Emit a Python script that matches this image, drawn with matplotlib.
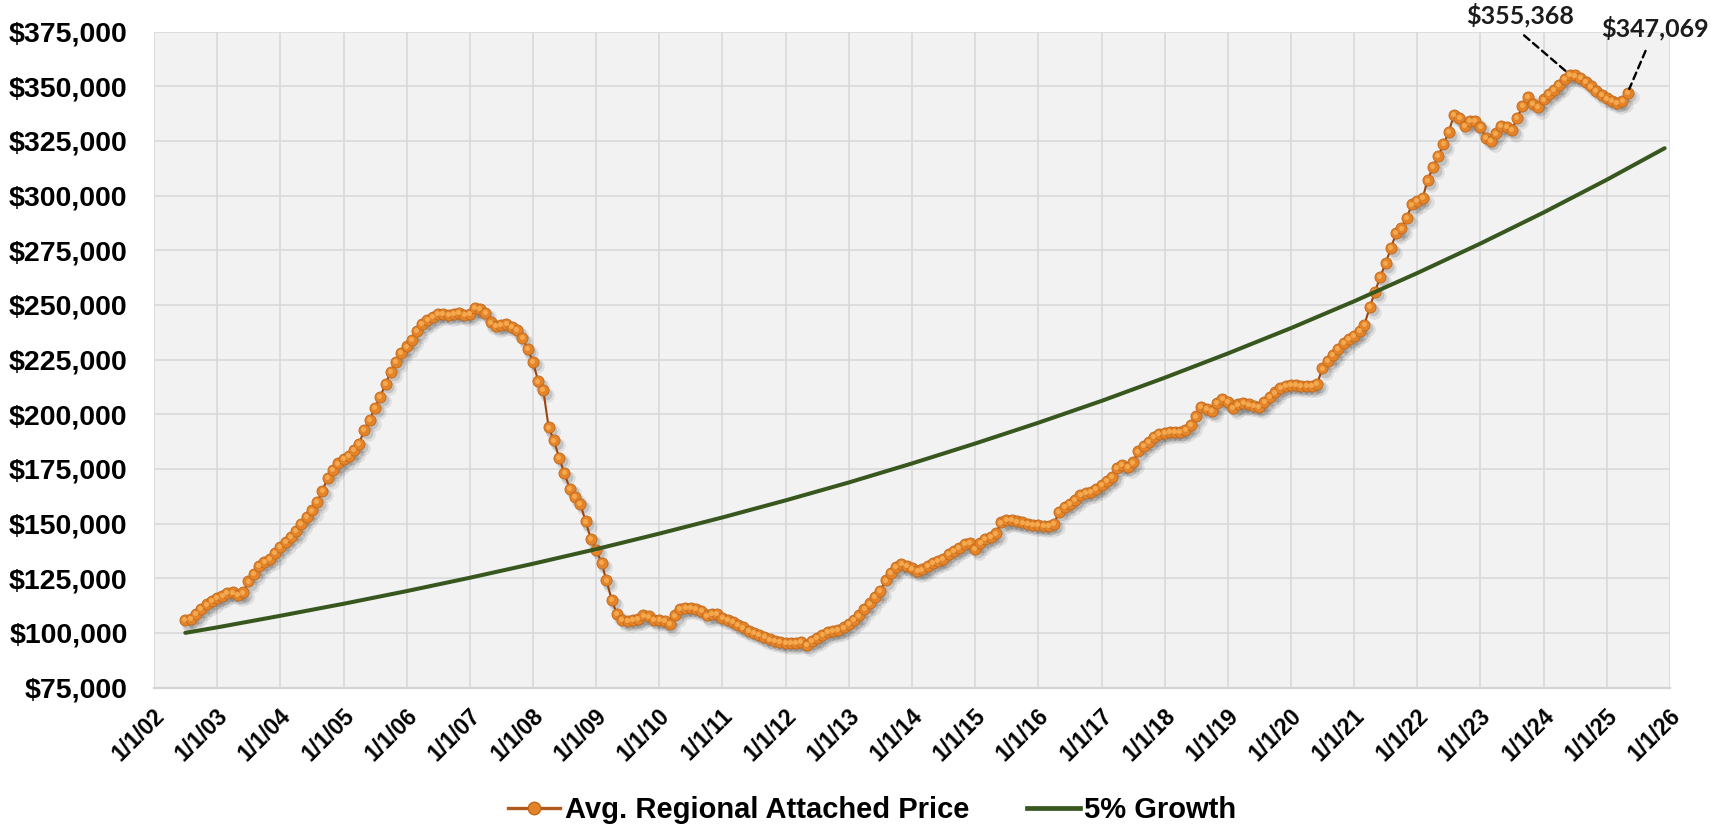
import matplotlib
matplotlib.use('Agg')
import matplotlib.pyplot as plt
import matplotlib.transforms as mtransforms
from matplotlib.lines import Line2D
import numpy as np
import pandas as pd

plt.rcParams['font.family'] = ['Liberation Sans', 'DejaVu Sans']

# ---------------- data ----------------
price_start = '2002-07-01'   # monthly series, first of month
price_k = [
    # 2002 Jul-Dec
    105.8, 106.5, 108.5, 111, 113, 114.5,
    # 2003
    116, 117, 118.3, 118.5, 117.5, 118.5, 123.5, 127, 130.5, 132.5, 134, 136.5,
    # 2004
    139.5, 141.5, 144, 146.5, 150, 153, 156, 160, 165, 171, 174.5, 177.5,
    # 2005
    179.5, 181, 183.5, 186.5, 193, 197.5, 203, 208, 214, 219.5, 224, 228,
    # 2006
    231, 234, 238, 241.5, 243, 244.5, 246, 246, 245.5, 246, 246.5, 245.5,
    # 2007
    246, 248.5, 248, 246.5, 242, 240.5, 241, 241.5, 240, 238.5, 235, 230,
    # 2008
    224, 215, 211, 194, 188, 180, 173, 166, 162, 159, 151, 143,
    # 2009
    138, 132, 124, 115, 108.5, 106, 105.5, 106, 106.5, 108, 107.5, 106,
    # 2010
    106, 105.5, 104, 108, 111, 111.5, 111.5, 111, 110, 108, 108.5, 108.5,
    # 2011
    107, 106, 105, 103.5, 102.5, 101, 100, 99, 98, 97, 96.5, 96,
    # 2012
    95.5, 95.5, 95.5, 96, 94.5, 96.5, 97.5, 99, 100.5, 101, 101.5, 102.5,
    # 2013
    104, 106, 108, 111, 113.5, 116.5, 119, 124, 127.5, 130, 131.5, 130.5,
    # 2014
    129.5, 128.5, 129, 130.5, 132, 133, 134, 136, 137.5, 139, 140.5, 141,
    # 2015
    138.5, 141, 143, 144, 145.5, 150.5, 151.5, 151.5, 151, 150.5, 150, 149.5,
    # 2016
    149.5, 149, 149, 150, 155.5, 157.5, 159, 161, 163, 164, 164.5, 166,
    # 2017
    167.5, 169.5, 171.5, 175.5, 177, 176, 178, 183, 185.5, 187.5, 189.5, 191,
    # 2018
    191.5, 192, 192, 192, 193, 195, 199, 203.5, 202.5, 201.5, 205, 207,
    # 2019
    205.5, 203, 204.5, 205, 204.5, 204, 203.5, 205.5, 208, 210, 212, 213,
    # 2020
    213.5, 213.5, 213, 213, 213, 214, 221, 224.5, 227, 230, 232.5, 234.5,
    # 2021
    236, 238, 241, 249, 256, 263, 269, 276, 283, 285, 290, 296,
    # 2022
    297.5, 299, 307, 313, 318, 323.5, 329, 337, 335.5, 332, 334, 334,
    # 2023
    331.5, 326.5, 325, 328.5, 332, 331.5, 330, 335.5, 341, 345, 342, 340.5,
    # 2024
    344, 346.5, 348.5, 350.5, 353.5, 355.368, 355, 354, 352, 350, 348, 346,
    # 2025 Jan-May
    344.5, 343.5, 342.5, 343.5, 347.069,
]

growth_dates = ['2002-07-01', '2003-01-01', '2004-01-01', '2005-01-01', '2006-01-01',
                '2007-01-01', '2008-01-01', '2009-01-01', '2010-01-01', '2011-01-01',
                '2012-01-01', '2013-01-01', '2014-01-01', '2015-01-01', '2016-01-01',
                '2017-01-01', '2018-01-01', '2019-01-01', '2020-01-01', '2021-01-01',
                '2022-01-01', '2023-01-01', '2024-01-01', '2025-01-01', '2025-12-01']
growth_values = [100000, 102500, 107800, 113300, 119100, 125200, 131600, 138300,
                 145400, 152800, 160600, 168800, 177500, 186600, 196100, 206100,
                 216700, 227800, 239400, 251700, 264600, 278100, 292300, 307300,
                 321700]

tick_years = list(range(2002, 2027))
tick_labels = [f'1/1/{y % 100:02d}' for y in tick_years]
y_ticks = list(range(75000, 375001, 25000))

series_names = ['Avg. Regional Attached Price', '5% Growth']

# ---------------- build ----------------
prices = np.array(price_k) * 1000.0
price_dates = pd.date_range(price_start, periods=len(prices), freq='MS')
g_dates = pd.to_datetime(growth_dates)

ORANGE_FACE = '#e4842a'
ORANGE_EDGE = '#c0681c'
ORANGE_LINE = '#9a4612'
GREEN = '#38571f'

fig = plt.figure(figsize=(17.24, 8.26), dpi=100)
ax = fig.add_axes([154 / 1724, 1 - 687.5 / 826, (1670 - 154) / 1724, (687.5 - 31.7) / 826])
ax.set_facecolor('#f2f2f2')

ax.set_xlim(pd.Timestamp('2002-01-01'), pd.Timestamp('2026-01-01'))
ax.set_ylim(75000, 375000)
ax.set_xticks([pd.Timestamp(f'{y}-01-01') for y in tick_years])
ax.set_xticklabels(tick_labels)
ax.set_yticks(y_ticks)
ax.set_yticklabels([f'${v:,}' for v in y_ticks])

ax.grid(True, color='#d9d9d9', lw=1.2)
ax.set_axisbelow(True)
for s in ['top', 'right', 'left']:
    ax.spines[s].set_visible(False)
ax.spines['bottom'].set_color('#d4d4d4')
ax.spines['bottom'].set_linewidth(1.6)

ax.tick_params(axis='both', length=0)
ax.tick_params(axis='y', pad=19, labelsize=20.5)
ax.tick_params(axis='x', pad=18, labelsize=16.5)
for lab in ax.get_yticklabels():
    lab.set_fontweight('bold')
xshift = mtransforms.ScaledTranslation(7 / 100, 0, fig.dpi_scale_trans)
for lab in ax.get_xticklabels():
    lab.set_fontweight('bold')
    lab.set_rotation(45)
    lab.set_ha('right')
    lab.set_va('center')
    lab.set_rotation_mode('anchor')
    lab.set_transform(lab.get_transform() + xshift)

# shadows of markers
sh1 = mtransforms.offset_copy(ax.transData, fig=fig, x=2.8, y=-3.2, units='points')
sh2 = mtransforms.offset_copy(ax.transData, fig=fig, x=2.0, y=-2.4, units='points')
ax.plot(price_dates, prices, ls='none', marker='o', ms=10.5, mfc='#000000', mec='none',
        alpha=0.08, transform=sh1, zorder=2)
ax.plot(price_dates, prices, ls='none', marker='o', ms=8.5, mfc='#000000', mec='none',
        alpha=0.13, transform=sh2, zorder=2)

ax.plot(price_dates, prices, color=ORANGE_LINE, lw=1.5, zorder=3)
ax.plot(price_dates, prices, ls='none', marker='o', ms=8.0, mfc=ORANGE_FACE,
        mec=ORANGE_EDGE, mew=0.6, zorder=4)
hl = mtransforms.offset_copy(ax.transData, fig=fig, x=-0.6, y=0.6, units='points')
ax.plot(price_dates, prices, ls='none', marker='o', ms=3.6, mfc='#f4a94f', mec='none',
        transform=hl, zorder=5)

ax.plot(g_dates, growth_values, color=GREEN, lw=2.9, zorder=6, solid_capstyle='round')

# annotations
peak_i = int(np.argmax(prices))
last_i = len(prices) - 1
ann_font = ['Lato', 'DejaVu Sans']
for idx, off in [(peak_i, (-36, 43)), (last_i, (20, 46.5))]:
    ax.annotate(f'${prices[idx]:,.0f}', xy=(price_dates[idx], prices[idx]),
                xytext=off, textcoords='offset points', ha='center', va='center',
                fontsize=18, fontweight='bold', family=ann_font, color='#1c1c1c',
                annotation_clip=False,
                arrowprops=dict(arrowstyle='-', ls=(0, (3, 2)), lw=1.7, color='black',
                                shrinkA=6, shrinkB=3, relpos=(0.45, 0.0)), zorder=10)

# legend
h1 = Line2D([], [], color='#b05a1e', lw=2.4, marker='o', ms=9, mfc=ORANGE_FACE, mec=ORANGE_EDGE)
h2 = Line2D([], [], color=GREEN, lw=3.4)
fig.legend([h1, h2], series_names, loc='center', bbox_to_anchor=(872 / 1724, 1 - 810 / 826),
           ncol=2, frameon=False, prop={'weight': 'bold', 'size': 21},
           handlelength=1.8, handletextpad=0.15, columnspacing=2.0)

fig.savefig('out.png', dpi=100)
